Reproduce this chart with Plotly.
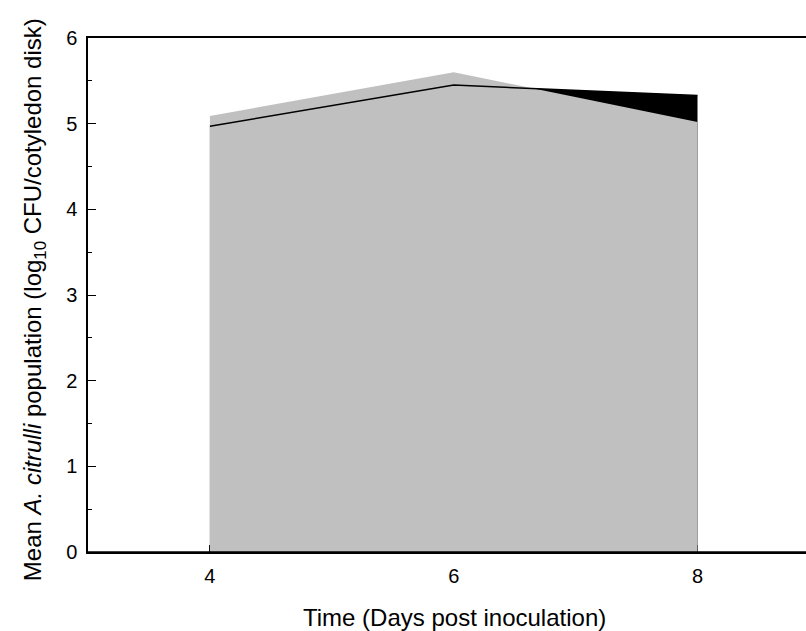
import plotly.graph_objects as go

# Days post inoculation
days = [4, 6, 8]
# Mean population, log10 CFU per cotyledon disk
series_black = [4.97, 5.45, 5.33]
series_grey = [5.09, 5.60, 5.02]
y_ticks = [0, 1, 2, 3, 4, 5, 6]
x_ticks = [4, 6, 8]

GREY = "#c0c0c0"
FONT = "Liberation Sans, Arial, sans-serif"

fig = go.Figure()

# black area underneath
fig.add_trace(go.Scatter(x=days, y=series_black, mode="lines", fill="tozeroy",
                         fillcolor="black", line=dict(width=0, color="black"),
                         hoverinfo="skip", showlegend=False))
# grey area on top
fig.add_trace(go.Scatter(x=days, y=series_grey, mode="lines", fill="tozeroy",
                         fillcolor=GREY, line=dict(width=0, color=GREY),
                         showlegend=False))
# black outline drawn over the grey
fig.add_trace(go.Scatter(x=days, y=series_black, mode="lines",
                         line=dict(width=1.5, color="black"),
                         showlegend=False))

fig.update_layout(
    width=806, height=631,
    margin=dict(l=88, r=0, t=38, b=79),
    paper_bgcolor="white", plot_bgcolor="white",
    font=dict(family=FONT, size=20, color="black"),
    xaxis=dict(
        range=[3.0, 8.89], tickvals=x_ticks, ticktext=[str(v) for v in x_ticks],
        ticks="inside", ticklen=7, tickwidth=1.2, tickcolor="black",
        showline=True, linecolor="black", linewidth=1.5, mirror=True,
        showgrid=False, zeroline=False, layer="below traces",
        tickfont=dict(family=FONT, size=20),
        ticklabelstandoff=5,
    ),
    yaxis=dict(
        range=[0, 6], tickvals=y_ticks, ticks="inside", ticklen=8, tickwidth=1.2,
        tickcolor="black", showline=True, linecolor="black", linewidth=1.5,
        showgrid=False, zeroline=False, ticklabelstandoff=5,
        tickfont=dict(family=FONT, size=20),
        minor=dict(dtick=0.5, ticks="inside", ticklen=4, tickwidth=1.2, tickcolor="black"),
    ),
    shapes=[dict(type="line", xref="paper", yref="paper", x0=0, x1=1, y0=0, y1=0,
                 line=dict(color="black", width=1.5), layer="above")],
    annotations=[
        dict(text="Time (Days post inoculation)", xref="paper", yref="paper",
             x=0.511, y=-0.1265, xanchor="center", yanchor="middle",
             showarrow=False, font=dict(family=FONT, size=24)),
        dict(text="Mean <i>A. citrulli</i> population (log<sub>10</sub> CFU/cotyledon disk)",
             xref="paper", yref="paper", x=-0.0752, y=0.49, textangle=-90,
             xanchor="center", yanchor="middle", showarrow=False,
             font=dict(family=FONT, size=24)),
    ],
)

fig.write_html("out.html")
